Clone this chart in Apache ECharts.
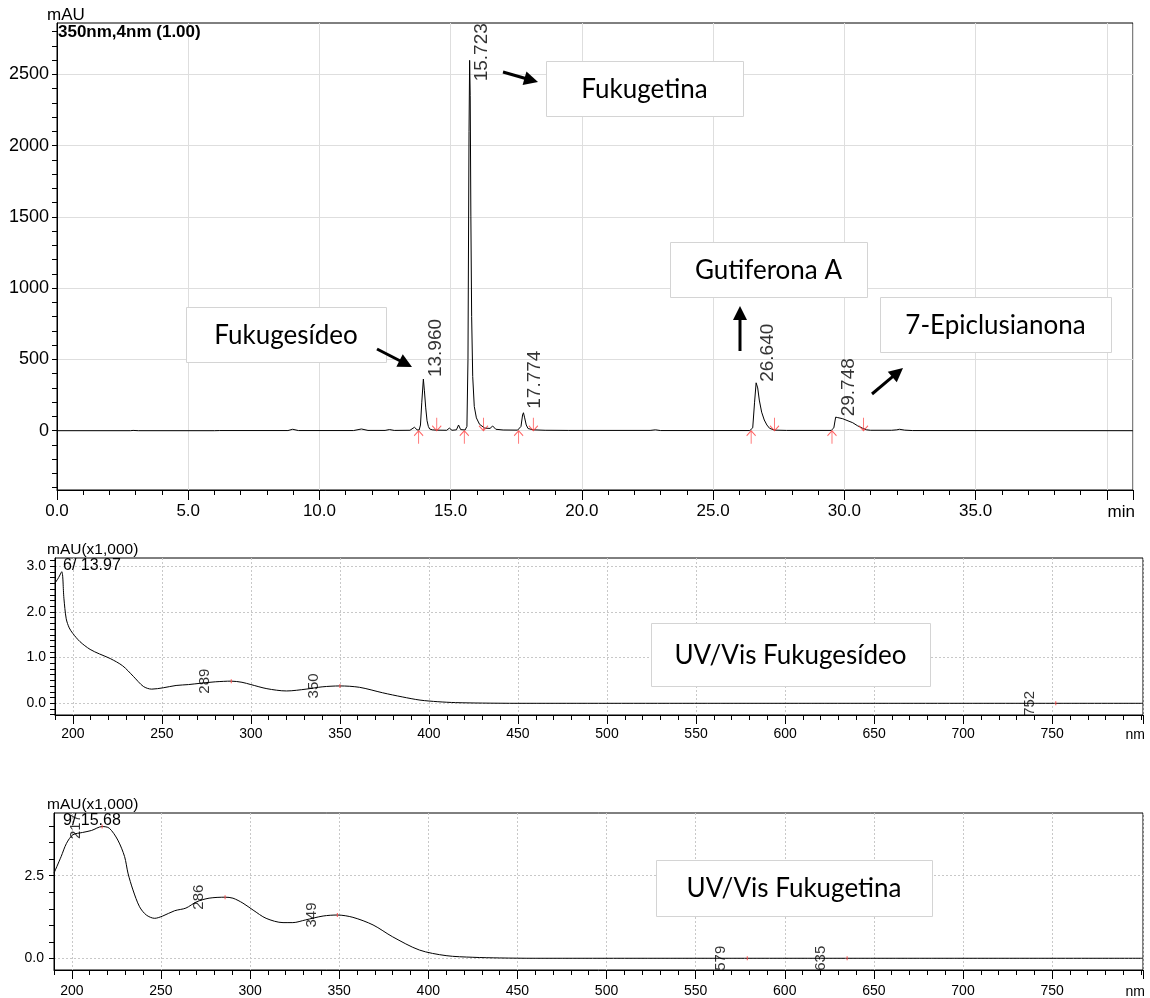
<!DOCTYPE html>
<html><head><meta charset="utf-8">
<script src="https://cdn.jsdelivr.net/npm/echarts@6/dist/echarts.min.js"></script>
<style>html,body{margin:0;padding:0;background:#fff}#c{width:1150px;height:998px}</style>
</head><body><div id="c"></div>
<script>
// ---------------- DATA ----------------
// Chromatogram (350 nm), time in min, signal in mAU
const chromTime = [0,2.8,2.9,3.1,6.0,6.2,8.8,8.98,9.2,11.3,11.6,11.85,12.5,12.67,12.85,13.45,13.62,13.72,13.8,13.85,13.9,13.96,14.0,14.05,14.1,14.15,14.2,14.3,14.45,14.85,14.95,15.05,15.22,15.3,15.38,15.55,15.62,15.66,15.7,15.723,15.745,15.77,15.8,15.84,15.9,15.98,16.1,16.3,16.5,16.6,16.72,17.0,17.55,17.68,17.74,17.774,17.82,17.88,17.95,18.15,18.6,19.5,22.6,22.8,23.0,26.4,26.51,26.58,26.64,26.7,26.76,26.85,26.95,27.05,27.15,27.34,27.8,29.5,29.6,29.67,29.748,29.94,30.1,30.32,30.5,30.7,30.85,31.0,31.8,32.0,32.1,32.3,32.6,41];
const chromSignal = [0,0,2,0,0,1,1,10,1,1,12,2,2,8,2,3,24,6,5,40,200,362,280,160,70,30,12,6,4,3,18,3,6,40,8,5,30,500,2100,2598,2350,1500,800,380,170,90,45,18,16,33,10,5,4,30,110,126,90,40,15,6,3,2,2,6,1,1,20,200,336,300,215,130,75,40,17,4,2,2,20,95,92,84,72,56,35,17,6,3,3,6,10,4,1,0];

const peakTimes   = [13.960, 15.723, 17.774, 26.640, 29.748];
const peakHeights = [362, 2598, 126, 336, 94];
const peakLabels  = ['13.960', '15.723', '17.774', '26.640', '29.748'];
const peakStarts  = [13.78, 15.52, 17.59, 26.45, 29.53];
const peakEnds    = [14.47, 16.25, 18.15, 27.34, 30.73];

// UV/Vis spectrum of Fukugesídeo (13.97 min), absorbance in mAU x1000
const uv1Wavelength = [190,192,193.8,195,196.3,198,200,204,209.7,215,221,228,234,239.6,244.3,250.8,258,265,272,280,289,295,300,309,320,331,340,350,361,374,385,395,405,415,430,450,801];
const uv1Absorbance = [2.63,2.75,2.88,2.3,1.85,1.65,1.53,1.35,1.18,1.08,0.98,0.82,0.59,0.37,0.31,0.34,0.39,0.41,0.44,0.47,0.485,0.46,0.41,0.32,0.27,0.31,0.36,0.38,0.35,0.23,0.14,0.07,0.035,0.015,0.005,0,0];
const uv1PeakNm  = [289, 350, 752];
const uv1PeakAbs = [0.485, 0.38, 0];

// UV/Vis spectrum of Fukugetina (15.68 min)
const uv2Wavelength = [190,194,197,200.6,206,211,217,221,225.8,229.6,231.5,234.3,238,241.8,246.5,251,257.7,264,270,277,286,290.4,296,301.7,309,318.5,324,331,341,349,357.7,369,380,395,410,425,440,460,801];
const uv2Absorbance = [2.58,3.08,3.48,3.74,3.81,3.87,3.99,3.94,3.58,3.08,2.58,2.07,1.56,1.31,1.21,1.28,1.44,1.52,1.71,1.82,1.85,1.82,1.67,1.46,1.21,1.08,1.08,1.16,1.28,1.31,1.24,1.01,0.65,0.25,0.08,0.03,0.01,0,0];
const uv2PeakNm  = [217, 286, 349, 579, 635];
const uv2PeakAbs = [3.99, 1.85, 1.31, 0, 0];

// Tick labels
const chromXLabels = [0,5,10,15,20,25,30,35];
const chromYLabels = [0,500,1000,1500,2000,2500];
const uvXLabels    = [200,250,300,350,400,450,500,550,600,650,700,750];
const uv1YLabels   = [0,1,2,3];
const uv2YLabels   = [0,2.5];

// Annotation texts
const annotationTexts = ['Fukugetina','Fukugesídeo','Gutiferona A','7-Epiclusianona','UV/Vis Fukugesídeo','UV/Vis Fukugetina'];

// ---------------- LAYOUT / STYLE ----------------
const annotationBoxes = [
  [546,61,197,55],[186,307,200,55],[670,242,197,55],[880,297,231,55],[651,623,279,63],[656,860,276,56]
];
const arrows = [[377,349,412,367],[503,72,538,82],[740,351,740,306],[872,394,903,368]];
// screen shift of each peak label: [dx, dy] in px
const peakLabelShift = [[12,-2],[12,21],[11,-4],[12,-1],[11,-1]];

function steps(a,b,s){const o=[];for(let i=0;a+i*s<=b+1e-9;i++)o.push(+(a+i*s).toFixed(6));return o;}
// rotated (90deg) labels take their offset in the rotated frame
const rotOffset = (dx,dy)=>[-dy,dx];

const FONT = 'Liberation Sans';
function axesFor(dim, gridIndex, cfg){
  const base = {type:'value', gridIndex, min:cfg.min, max:cfg.max, position: dim==='x'?'bottom':'left'};
  const minor = Object.assign({}, base, {
    axisLine:{show:true,onZero:false,lineStyle:{color:'#000',width:1}},
    axisTick:{show:true,customValues:cfg.minor,length:5,lineStyle:{color:'#000',width:1}},
    axisLabel:{show:false}, splitLine:{show:false}
  });
  const major = Object.assign({}, base, {
    axisLine:{show:false,onZero:false},
    axisTick:{show:true,customValues:cfg.major,length:cfg.majorLen,lineStyle:{color:'#000',width:1}},
    axisLabel:{show:true,customValues:cfg.labels,formatter:cfg.fmt,fontSize:cfg.fontSize,fontFamily:FONT,color:'#000',margin:cfg.margin},
    splitLine:{show:true,lineStyle:cfg.grid}
  });
  if (cfg.name){
    major.name = cfg.name; major.nameLocation='end'; major.nameGap=2; major.nameMoveOverlap=false;
    major.nameTextStyle = {fontSize:cfg.fontSize,fontFamily:FONT,color:'#000',align:'right',verticalAlign:'top',padding:[cfg.margin+1,0,0,0]};
  }
  return [minor, major];
}
const gridSolid = {color:'#dedede',width:1,type:'solid'};
const gridDot = {color:'#c8c8c8',width:1,type:[2,2]};

const xAxes = [].concat(
  axesFor('x',0,{min:0,max:41,minor:steps(0,41,1),major:steps(0,40,5).concat([41]),majorLen:10,labels:chromXLabels,fmt:v=>Number(v).toFixed(1),fontSize:17,margin:13,grid:gridSolid,name:'min'}),
  axesFor('x',1,{min:190,max:801,minor:steps(190,800,10),major:uvXLabels.concat([801]),majorLen:9,labels:uvXLabels,fmt:v=>String(v),fontSize:14,margin:12,grid:gridDot,name:'nm'}),
  axesFor('x',2,{min:190,max:801,minor:steps(190,800,10),major:uvXLabels.concat([801]),majorLen:9,labels:uvXLabels,fmt:v=>String(v),fontSize:14,margin:14,grid:gridDot,name:'nm'})
);
const yAxes = [].concat(
  axesFor('y',0,{min:-416,max:2860,minor:steps(-400,2800,100),major:chromYLabels,majorLen:5,labels:chromYLabels,fmt:v=>String(v),fontSize:18,margin:8,grid:gridSolid}),
  axesFor('y',1,{min:-0.256,max:3.18,minor:steps(-0.25,3.125,0.125),major:uv1YLabels,majorLen:5,labels:uv1YLabels,fmt:v=>Number(v).toFixed(1),fontSize:14,margin:9,grid:gridDot}),
  axesFor('y',2,{min:-0.355,max:4.4,minor:steps(0,4,0.5),major:uv2YLabels,majorLen:5,labels:uv2YLabels,fmt:v=>Number(v).toFixed(1),fontSize:14,margin:10,grid:gridDot})
);

const upArrow = 'path://M5,0L5,13M0,5L5,0L10,5';
const downArrow = 'path://M5,13L5,0M0,8L5,13L10,8';
const redMark = {color:'rgba(0,0,0,0)',borderColor:'#ff3b3b',borderWidth:1};

function uvPeakSeries(xi, nm, ab){
  return {type:'scatter',xAxisIndex:xi,yAxisIndex:xi,data:nm.map((w,i)=>[w,ab[i]]),
    symbol:'rect',symbolSize:[1.2,4],itemStyle:{color:'#ff4a4a'},silent:true,z:4,
    label:{show:true,position:'inside',rotate:90,align:'center',verticalAlign:'middle',offset:rotOffset(-26,0),
      formatter:p=>String(p.value[0]),fontSize:15,fontFamily:FONT,color:'#000'}};
}

const series = [
  {type:'line',xAxisIndex:1,yAxisIndex:1,data:chromTime.map((t,i)=>[t,chromSignal[i]]),showSymbol:false,symbol:'none',
   lineStyle:{color:'#000',width:1},silent:true,z:3},
  {type:'scatter',xAxisIndex:1,yAxisIndex:1,silent:true,z:4,
   data:peakTimes.map((t,i)=>({value:[t,peakHeights[i]],label:{offset:rotOffset(peakLabelShift[i][0],peakLabelShift[i][1])}})),
   symbolSize:1,itemStyle:{color:'rgba(0,0,0,0)'},
   label:{show:true,position:'inside',rotate:90,align:'left',verticalAlign:'middle',
     formatter:p=>peakLabels[p.dataIndex],fontSize:19,fontFamily:FONT,color:'#000'}},
  {type:'scatter',xAxisIndex:1,yAxisIndex:1,silent:true,z:4,data:peakStarts.map(t=>[t,0]),
   symbol:upArrow,symbolSize:[9,13],symbolOffset:[0,6.5],itemStyle:redMark},
  {type:'scatter',xAxisIndex:1,yAxisIndex:1,silent:true,z:4,data:peakEnds.map(t=>[t,0]),
   symbol:downArrow,symbolSize:[9,13],symbolOffset:[0,-6.5],itemStyle:redMark},
  {type:'line',xAxisIndex:3,yAxisIndex:3,data:uv1Wavelength.map((w,i)=>[w,uv1Absorbance[i]]),showSymbol:false,symbol:'none',
   smooth:0.3,lineStyle:{color:'#000',width:1},silent:true,z:3},
  uvPeakSeries(3,uv1PeakNm,uv1PeakAbs),
  {type:'line',xAxisIndex:5,yAxisIndex:5,data:uv2Wavelength.map((w,i)=>[w,uv2Absorbance[i]]),showSymbol:false,symbol:'none',
   smooth:0.3,lineStyle:{color:'#000',width:1},silent:true,z:3},
  uvPeakSeries(5,uv2PeakNm,uv2PeakAbs)
];

// graphic annotations
const graphics = [];
annotationBoxes.forEach((b,i)=>{
  graphics.push({type:'rect',shape:{x:b[0]+0.5,y:b[1]+0.5,width:b[2],height:b[3]},style:{fill:'#fff',stroke:'#d4d4d4',lineWidth:1},z:50,silent:true});
  graphics.push({type:'text',x:b[0]+b[2]/2,y:b[1]+b[3]/2+1,z:51,silent:true,
    style:{text:annotationTexts[i],fill:'#000',fontSize:26,fontFamily:'Lato',align:'center',verticalAlign:'middle',textAlign:'center',textVerticalAlign:'middle'}});
});
arrows.forEach(a=>{
  const [x1,y1,x2,y2]=a; const dx=x2-x1, dy=y2-y1, L=Math.hypot(dx,dy), ux=dx/L, uy=dy/L;
  const hl=14, hw=7, bx=x2-ux*hl, by=y2-uy*hl, nx=-uy, ny=ux;
  graphics.push({type:'line',shape:{x1,y1,x2:bx+ux*2,y2:by+uy*2},style:{stroke:'#000',lineWidth:3},z:52,silent:true});
  graphics.push({type:'polygon',shape:{points:[[x2,y2],[bx+nx*hw,by+ny*hw],[bx-nx*hw,by-ny*hw]]},style:{fill:'#000'},z:52,silent:true});
});

const tStyle = (size,weight)=>({fontSize:size,fontWeight:weight||'normal',fontFamily:FONT,color:'#000'});
const option = {
  animation:false,
  backgroundColor:'#fff',
  title:[
    {text:'mAU',left:47,top:7,padding:0,textStyle:tStyle(17)},
    {text:'350nm,4nm (1.00)',left:58,top:24,padding:0,textStyle:tStyle(17,'bold')},
    {text:'mAU(x1,000)',left:47,top:542,padding:0,textStyle:tStyle(15.5)},
    {text:'6/ 13.97',left:63,top:558,padding:0,textStyle:tStyle(16)},
    {text:'mAU(x1,000)',left:47,top:797,padding:0,textStyle:tStyle(15.5)},
    {text:'9/ 15.68',left:63,top:813,padding:0,textStyle:tStyle(16)}
  ],
  grid:[
    {left:57,top:23,width:1076,height:467,show:true,borderColor:'#000',borderWidth:1,backgroundColor:'rgba(0,0,0,0)',outerBoundsMode:'none',containLabel:false},
    {left:55,top:558,width:1088,height:157,show:true,borderColor:'#000',borderWidth:1,backgroundColor:'rgba(0,0,0,0)',outerBoundsMode:'none',containLabel:false},
    {left:54,top:813,width:1089,height:157,show:true,borderColor:'#000',borderWidth:1,backgroundColor:'rgba(0,0,0,0)',outerBoundsMode:'none',containLabel:false}
  ],
  xAxis:xAxes,
  yAxis:yAxes,
  series:series,
  graphic:{elements:graphics}
};
const chart = echarts.init(document.getElementById('c'),null,{renderer:'canvas',width:1150,height:998});
chart.setOption(option);
</script>
</body></html>
